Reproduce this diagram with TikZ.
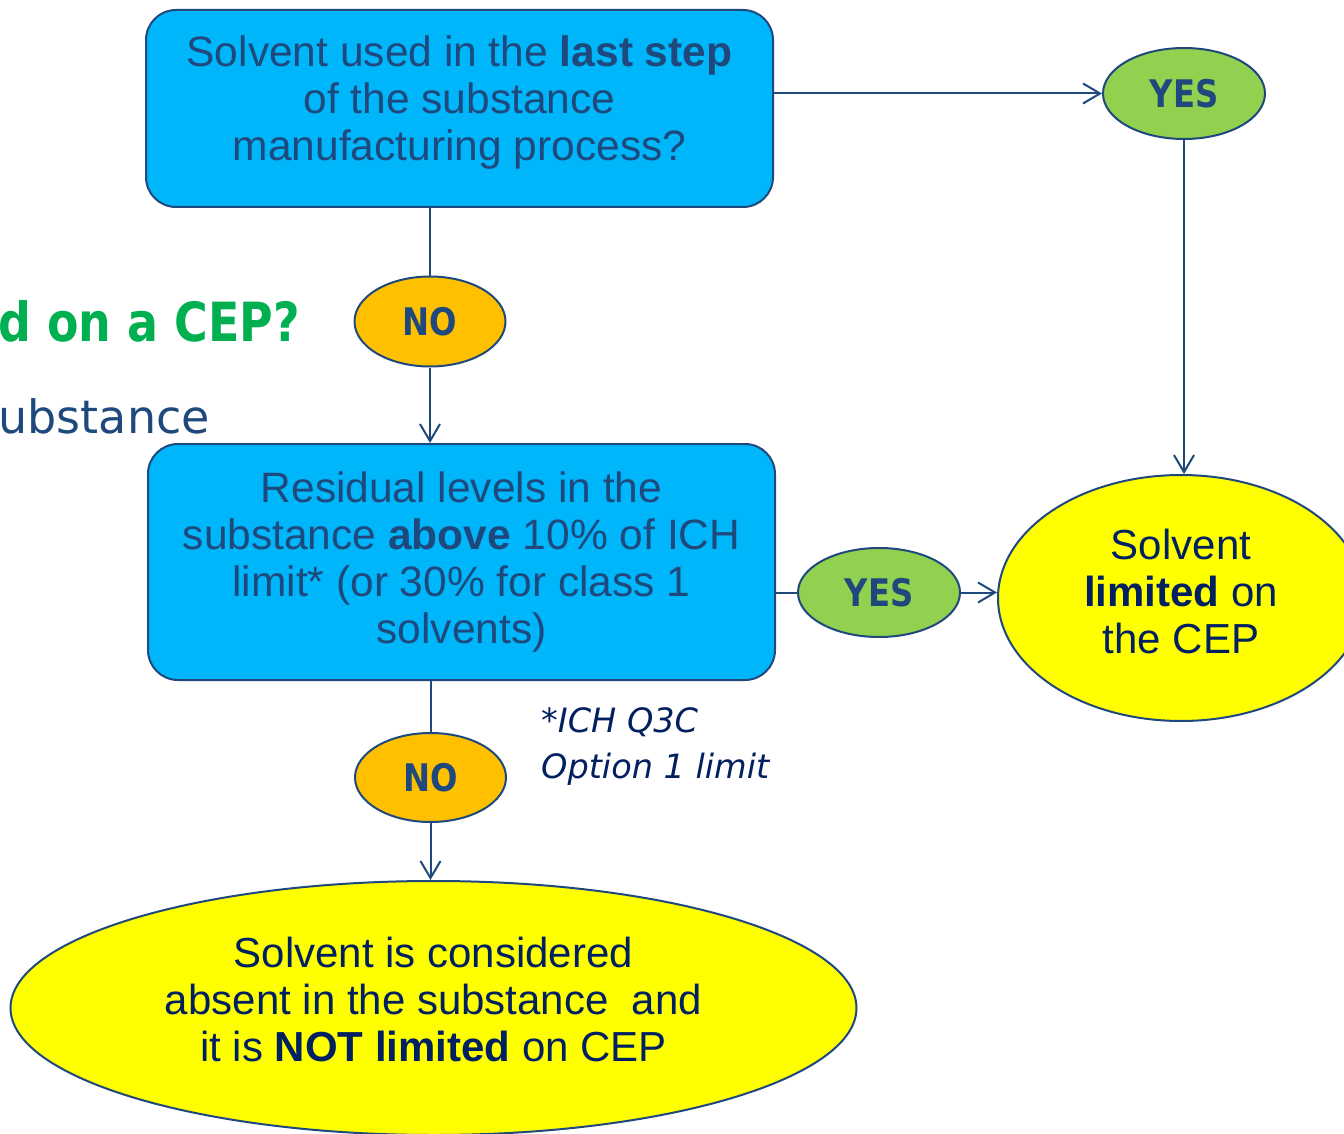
\documentclass[tikz,border=0pt]{standalone}
\usepackage{fontspec}
\setmainfont{Liberation Sans}
\newfontfamily\vfont{DejaVu Sans}
\newfontfamily\ynfont[FakeStretch=0.85]{DejaVu Sans}
\usetikzlibrary{shapes.geometric,arrows.meta}
\definecolor{boxblue}{RGB}{0,182,250}
\definecolor{dkblue}{RGB}{31,73,125}
\definecolor{navy}{RGB}{0,32,96}
\definecolor{yesgreen}{RGB}{146,208,80}
\definecolor{noorange}{RGB}{255,192,0}
\definecolor{titlegreen}{RGB}{0,176,80}
\definecolor{resyellow}{RGB}{255,255,0}
\tikzset{
  qbox/.style={draw=dkblue, line width=2pt, fill=boxblue, rounded corners=30pt,
    text=dkblue, align=center, inner sep=0pt,
    font=\fontsize{42.5}{47}\selectfont},
  yes/.style={ellipse, draw=dkblue, line width=2pt, fill=yesgreen, inner sep=0pt,
    minimum width=162pt, minimum height=91pt, text=dkblue,
    font=\ynfont\bfseries\fontsize{38}{40}\selectfont},
  no/.style={yes, fill=noorange, minimum width=151pt, minimum height=90pt},
  res/.style={ellipse, draw=dkblue, line width=2pt, fill=resyellow, inner sep=0pt,
    text=navy, align=center, font=\fontsize{42}{47}\selectfont},
  conn/.style={draw=dkblue, line width=2pt},
  arr/.style={conn, -{Straight Barb[length=17pt,width=20pt]}}
}
\begin{document}
\begin{tikzpicture}[x=1pt,y=-1pt]
\clip (0,0) rectangle (1344,1134);
\useasboundingbox (0,0) rectangle (1344,1134);
\fill[white] (0,0) rectangle (1344,1134);

\node[anchor=base east, text=titlegreen, font=\ynfont\bfseries\fontsize{54}{60}\selectfont, inner sep=0pt] (title) at (300,341) {d on a CEP?};
\node[anchor=base east, text=dkblue, font=\vfont\fontsize{46}{55}\selectfont, inner sep=0pt] (sub) at (210,433) {ubstance};

\node[qbox, minimum width=627pt, minimum height=197pt] (b1) at (459.5,108.5)
  {\parbox{610pt}{\centering Solvent used in the \textbf{last step}\\ of the substance\\ manufacturing process?\par\vspace{12pt}}};
\node[qbox, minimum width=627pt, minimum height=236pt] (b2) at (461.5,562)
  {\parbox{610pt}{\centering Residual levels in the\\ substance \textbf{above} 10\% of ICH\\ limit* (or 30\% for class 1\\ solvents)}};

\node[no] (no1) at (430,321.5) {NO};
\node[yes] (yes1) at (1184,93.5) {YES};
\node[yes, minimum height=89pt] (yes2) at (879,592.5) {YES};
\node[no, minimum height=89pt] (no2) at (430.5,777.5) {NO};

\node[res, minimum width=366pt, minimum height=246pt] (r) at (1181,598)
  {\parbox{210pt}{\centering Solvent\\ \textbf{limited} on\\ the CEP\par\vspace{14pt}}};
\node[res, minimum width=846pt, minimum height=254pt] (bot) at (433.5,1008)
  {\parbox{570pt}{\centering Solvent is considered\\ absent in the substance\ \ and\\ it is \textbf{NOT limited} on CEP\par\vspace{18pt}}};

\node[anchor=base west, text=navy, align=left, inner sep=0pt,
  font=\vfont\itshape\fontsize{33.5}{46}\selectfont] (note) at (541,778)
  {*ICH Q3C\\ Option 1 limit};

\draw[conn] (no1.north |- b1.south) -- (no1.north);
\draw[arr] (no1.south) -- (no1.south |- b2.north);
\draw[arr] (b1.east |- yes1.west) -- (yes1.west);
\draw[arr] (yes1.south) -- (yes1.south |- r.north);
\draw[conn] (b2.east |- yes2.west) -- (yes2.west);
\draw[arr] (yes2.east) -- (yes2.east -| r.west);
\draw[conn] (no2.north |- b2.south) -- (no2.north);
\draw[arr] (no2.south) -- (no2.south |- bot.north);
\end{tikzpicture}
\end{document}
